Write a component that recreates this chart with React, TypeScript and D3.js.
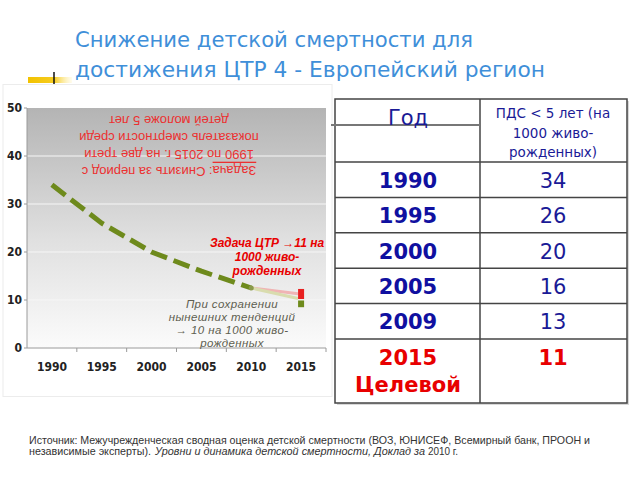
import React from 'react';
import * as d3 from 'd3';

// ---- data ----
const categories = ['1990', '1995', '2000', '2005', '2010', '2015'];
const yTicks = [0, 10, 20, 30, 40, 50];
const trendYears = [1990, 1995, 2000, 2005, 2010];
const trendValues = [34, 26, 20, 16, 12.5];
const projectionYear = 2015;
const targetProjection = 11.3;
const currentProjection = 10.3;
const targetMarker = [10.2, 12.3];
const currentMarker = [8.5, 9.9];

const titleLines = ['Снижение детской смертности для', 'достижения ЦТР 4 - Европейский регион'];
const goalLines = ['Задача: Снизить за период с', '1990 по 2015 г. на две трети', 'показатель смертности среди', 'детей моложе 5 лет'];
const targetNoteLines = ['Задача ЦТР →11 на', '1000 живо-', 'рожденных'];
const trendNoteLines = ['При сохранении', 'нынешних тенденций', '→ 10 на 1000 живо-', 'рожденных'];

const tableHeadYear = 'Год';
const tableHeadValue = ['ПДС < 5 лет (на', '1000 живо-', 'рожденных)'];
const tableYears = ['1990', '1995', '2000', '2005', '2009'];
const tableValues = [34, 26, 20, 16, 13];
const targetYearLabel = ['2015', 'Целевой'];
const targetValue = 11;

const sourceLine1 = 'Источник: Межучрежденческая сводная оценка детской смертности (ВОЗ, ЮНИСЕФ, Всемирный банк, ПРООН и';
const sourceLine2a = 'независимые эксперты).';
const sourceLine2b = 'Уровни и динамика детской смертности, Доклад за';
const sourceLine2c = '2010 г.';

export default function App() {
  const plotL = 27, plotR = 326, plotT = 108, plotB = 348;
  const x = d3.scaleBand<string>().domain(categories).range([plotL, plotR]);
  const bw = x.bandwidth();
  const y = d3.scaleLinear().domain([0, 50]).range([plotB, plotT]);
  const xYear = d3.scaleLinear().domain([1990, 2015]).range([(x('1990') as number) + bw / 2, (x('2015') as number) + bw / 2]);

  const line = d3.line<number>().x((_, i) => xYear(trendYears[i])).y((d) => y(d));
  const lastX = xYear(trendYears[trendYears.length - 1]);
  const lastY = y(trendValues[trendValues.length - 1]);
  const px = xYear(projectionYear);

  // table layout
  const tL = 335, tM = 480, tR = 627, tT = 99, headB = 162, rowH = 35.4, tB = 403;
  const rowTops = tableYears.map((_, i) => headB + i * rowH);
  const lastRowTop = headB + tableYears.length * rowH;
  const navy = '#1a1a96';

  return (
    <svg width={640} height={480} style={{ position: 'absolute', left: 0, top: 0, background: '#fff' }}>
      <defs>
        <linearGradient id="plotBg" x1="0" y1="0" x2="0" y2="1">
          <stop offset="0" stopColor="#b4b4b4" />
          <stop offset="0.55" stopColor="#e0e0e0" />
          <stop offset="1" stopColor="#fbfbfb" />
        </linearGradient>
        <linearGradient id="bullet" x1="0" y1="0" x2="1" y2="0">
          <stop offset="0" stopColor="#f2c200" />
          <stop offset="0.6" stopColor="#f6cc20" />
          <stop offset="1" stopColor="#fff4c0" stopOpacity="0.3" />
        </linearGradient>
      </defs>

      {/* title */}
      <rect x={28} y={77} width={44} height={6} fill="url(#bullet)" />
      <line x1={54} y1={72} x2={54} y2={84} stroke="#111" strokeWidth={1.5} />
      {titleLines.map((t, i) => (
        <text key={i} x={75} y={47 + i * 30} fontFamily="DejaVu Sans" fontSize={21.5} fill="#3f8fd9"
          textLength={i === 0 ? 398 : 470} lengthAdjust="spacingAndGlyphs">{t}</text>
      ))}

      {/* chart panel */}
      <rect x={3} y={84.5} width={329} height={312} fill="#fff" stroke="#ececec" />
      <rect x={plotL} y={plotT} width={plotR - plotL} height={plotB - plotT} fill="url(#plotBg)" />
      {yTicks.filter((t) => t > 0 && t < 50).map((t) => (
        <line key={t} x1={plotL} x2={plotR} y1={y(t)} y2={y(t)} stroke="#f6f6f6" strokeWidth={1} />
      ))}
      <line x1={plotL} x2={plotL} y1={plotT} y2={plotB} stroke="#9a9a9a" />
      <line x1={plotL} x2={plotR} y1={plotB} y2={plotB} stroke="#9a9a9a" />
      {yTicks.map((t) => (
        <g key={t}>
          <line x1={plotL - 3} x2={plotL} y1={y(t)} y2={y(t)} stroke="#9a9a9a" />
          <text x={22} y={y(t)} textAnchor="end" dominantBaseline="central" fontFamily="Liberation Sans Narrow, DejaVu Sans Condensed" fontWeight="bold" fontSize={12} fill="#222">{t}</text>
        </g>
      ))}
      {categories.map((c, i) => (
        <g key={c}>
          {i > 0 && <line x1={x(c)} x2={x(c)} y1={plotB} y2={plotB + 4} stroke="#9a9a9a" />}
          <text x={(x(c) as number) + bw / 2} y={367} textAnchor="middle" dominantBaseline="central" fontFamily="Liberation Sans Narrow, DejaVu Sans Condensed" fontWeight="bold" fontSize={12} fill="#222">{c}</text>
        </g>
      ))}
      <line x1={plotR} x2={plotR} y1={plotB} y2={plotB + 4} stroke="#9a9a9a" />

      {/* upside-down goal text */}
      <g transform={`rotate(180, 169, 145)`}>
        {goalLines.map((t, i) => (
          <text key={i} x={169} y={119 + i * 17} textAnchor="middle" dominantBaseline="central" fontFamily="Liberation Sans" fontSize={13} fill="#ec3030">
            {i === 0 ? (<><tspan textDecoration="underline">Задача</tspan>{t.slice(6)}</>) : t}
          </text>
        ))}
      </g>

      {/* trend and projections */}
      <path d={line(trendValues) as string} fill="none" stroke="#6e8a1c" strokeWidth={5} strokeDasharray="17 7" />
      <line x1={lastX} y1={lastY} x2={px - 3} y2={y(targetProjection)} stroke="#f0b4b4" strokeWidth={3} />
      <line x1={lastX} y1={lastY} x2={px - 3} y2={y(currentProjection)} stroke="#d9dcae" strokeWidth={3} />
      <circle cx={lastX} cy={lastY} r={2.5} fill="#8a9a4a" />
      <rect x={px - 3} width={6} y={y(targetMarker[1])} height={y(targetMarker[0]) - y(targetMarker[1])} fill="#e82020" />
      <rect x={px - 3} width={6} y={y(currentMarker[1])} height={y(currentMarker[0]) - y(currentMarker[1])} fill="#6e8a1c" />

      {targetNoteLines.map((t, i) => (
        <text key={i} x={267} y={243 + i * 14} textAnchor="middle" dominantBaseline="central" fontFamily="Liberation Sans" fontStyle="italic" fontWeight="bold" fontSize={12} fill="#e80000">{t}</text>
      ))}
      {trendNoteLines.map((t, i) => (
        <text key={i} x={232} y={304 + i * 13} textAnchor="middle" dominantBaseline="central" fontFamily="Liberation Sans" fontStyle="italic" fontSize={11.5} fill="#5e5e50" letterSpacing={0.4}>{t}</text>
      ))}

      {/* table */}
      <rect x={tL + 2} y={tT + 2} width={tR - tL} height={tB - tT} fill="#d8d8d8" />
      <rect x={tL} y={tT} width={tR - tL} height={tB - tT} fill="#fff" stroke="#444" strokeWidth={1.5} />
      <line x1={tM} x2={tM} y1={tT} y2={tB} stroke="#444" strokeWidth={1.5} />
      <line x1={tL} x2={tR} y1={headB} y2={headB} stroke="#444" strokeWidth={1.5} />
      {rowTops.map((r, i) => (
        <line key={i} x1={tL} x2={tR} y1={r + rowH} y2={r + rowH} stroke="#444" strokeWidth={1.5} />
      ))}
      <line x1={331} x2={480} y1={125} y2={125} stroke="#777" strokeWidth={2} />
      <text x={408} y={118} textAnchor="middle" dominantBaseline="central" fontFamily="DejaVu Sans" fontSize={21} fill={navy}>{tableHeadYear}</text>
      {tableHeadValue.map((t, i) => (
        <text key={i} x={553} y={113 + i * 19.5} textAnchor="middle" dominantBaseline="central" fontFamily="DejaVu Sans" fontSize={13.5} fill={navy}>{t}</text>
      ))}
      {tableYears.map((yr, i) => (
        <g key={yr}>
          <text x={408} y={rowTops[i] + rowH / 2 + 1} textAnchor="middle" dominantBaseline="central" fontFamily="DejaVu Sans" fontWeight="bold" fontSize={21} fill="#1010a0">{yr}</text>
          <text x={553} y={rowTops[i] + rowH / 2 + 1} textAnchor="middle" dominantBaseline="central" fontFamily="DejaVu Sans" fontSize={21} fill={navy}>{tableValues[i]}</text>
        </g>
      ))}
      {targetYearLabel.map((t, i) => (
        <text key={t} x={408} y={lastRowTop + 19 + i * 27} textAnchor="middle" dominantBaseline="central" fontFamily="DejaVu Sans" fontWeight="bold" fontSize={21} fill="#e80000">{t}</text>
      ))}
      <text x={553} y={lastRowTop + 19} textAnchor="middle" dominantBaseline="central" fontFamily="DejaVu Sans" fontWeight="bold" fontSize={21} fill="#e80000">{targetValue}</text>

      {/* source */}
      <text x={29} y={444} fontFamily="Liberation Sans" fontSize={11} fill="#333" textLength={561} lengthAdjust="spacingAndGlyphs">{sourceLine1}</text>
      <text x={29} y={455} fontFamily="Liberation Sans" fontSize={11} fill="#333" textLength={122} lengthAdjust="spacingAndGlyphs">{sourceLine2a}</text>
      <text x={155} y={455} fontFamily="Liberation Sans" fontStyle="italic" fontSize={11} fill="#333" textLength={270} lengthAdjust="spacingAndGlyphs">{sourceLine2b}</text>
      <text x={428} y={455} fontFamily="Liberation Sans" fontSize={11} fill="#333" textLength={30} lengthAdjust="spacingAndGlyphs">{sourceLine2c}</text>
    </svg>
  );
}
